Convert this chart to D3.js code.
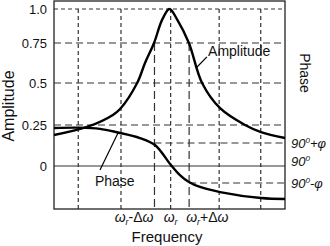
<!DOCTYPE html>
<html>
<head>
<meta charset="utf-8">
<script src="https://cdn.jsdelivr.net/npm/d3@7"></script>
<style>
  body { margin: 0; background: #fff; }
  svg { display: block; }
  text { font-family: "Liberation Sans", Arial, sans-serif; fill: #111; }
</style>
</head>
<body>
<div id="chart"></div>
<script>
// frequency in arbitrary units, resonance (wr) at 50
const ampFreq   = [0, 14.3, 25.5, 28.6, 36, 39.4, 43.3, 46.8, 50, 53.4, 58.4, 64.1, 71.9, 82.7, 89.6, 100];
const amplitude = [0.189, 0.238, 0.31, 0.345, 0.5, 0.625, 0.75, 0.92, 1.0, 0.92, 0.75, 0.5, 0.35, 0.25, 0.207, 0.171];

// phase in degrees (phi = 30 deg)
const phaseFreq = [0, 10.8, 19.9, 27.3, 37.2, 43.7, 50.6, 54.5, 58.4, 63.2, 71.9, 89.6, 100];
const phase     = [139.5, 140, 138.5, 134, 126.5, 117.4, 91.3, 74, 61.8, 53, 44, 33.5, 31.8];

const ampTicks = [0, 0.25, 0.5, 0.75, 1.0];
const ampTickLabels = ["0", "0.25", "0.5", "0.75", "1.0"];
const phaseTicks = [60, 90, 120];
const phaseTickLabels = [["90", "0", "-\u03c6"], ["90", "0", ""], ["90", "0", "+\u03c6"]];

// vertical dashed guides
const gridFreq = [10.5, 29, 43.5, 50.5, 58.5, 71.5, 89.5];
const gridTop  = [1.0, 1.0, 0.75, 1.0, 0.75, 1.0, 1.0];

const W = 330, H = 246;
const margin = {top: 1, right: 45, bottom: 37, left: 54};

const svg = d3.select("#chart").append("svg")
    .attr("width", W)
    .attr("height", H);

const x = d3.scaleLinear().domain([0, 100]).range([margin.left, W - margin.right]);
// schematic axis, not evenly spaced in the original drawing
const yAmp = d3.scaleLinear().domain(ampTicks).range([166, 125, 83, 43, 9]);
const yPhase = d3.scaleLinear().domain(phaseTicks).range([183, 166, 143]);

const bottom = H - margin.bottom;
const grid = svg.append("g").attr("stroke", "#333").attr("fill", "none");

// horizontal guides
ampTicks.forEach(d => {
  let l = grid.append("line")
      .attr("x1", x(0)).attr("x2", x(100))
      .attr("y1", yAmp(d)).attr("y2", yAmp(d))
      .attr("stroke-width", 1.2);
  if (d == 1.0) l.attr("stroke-dasharray", "4,3");
  else if (d > 0) l.attr("stroke-dasharray", "7,4");
});

// 90+phi / 90-phi guides start at the half power frequencies
grid.append("line")
    .attr("x1", x(gridFreq[2])).attr("x2", x(100))
    .attr("y1", yPhase(120)).attr("y2", yPhase(120))
    .attr("stroke-width", 1.2).attr("stroke-dasharray", "7,4");
grid.append("line")
    .attr("x1", x(gridFreq[4])).attr("x2", x(100))
    .attr("y1", yPhase(60)).attr("y2", yPhase(60))
    .attr("stroke-width", 1.2).attr("stroke-dasharray", "7,4");

// vertical guides
grid.selectAll(".vgrid")
    .data(gridFreq)
    .enter().append("line")
    .attr("class", "vgrid")
    .attr("x1", d => x(d)).attr("x2", d => x(d))
    .attr("y1", (d, i) => yAmp(gridTop[i]))
    .attr("y2", bottom)
    .attr("stroke-width", 1.2)
    .attr("stroke-dasharray", (d, i) => gridTop[i] == 0.75 ? "8,4" : "4,3");

// frame
svg.append("rect")
    .attr("x", x(0)).attr("y", margin.top)
    .attr("width", x(100) - x(0))
    .attr("height", bottom - margin.top)
    .attr("fill", "none")
    .attr("stroke", "#222")
    .attr("stroke-width", 1.3);

// curves
const ampLine = d3.line()
    .x(d => x(d[0])).y(d => yAmp(d[1]))
    .curve(d3.curveCatmullRom.alpha(0.5));
const phaseLine = d3.line()
    .x(d => x(d[0])).y(d => yPhase(d[1]))
    .curve(d3.curveCatmullRom.alpha(0.5));

svg.append("path")
    .datum(ampFreq.map((f, i) => [f, amplitude[i]]))
    .attr("d", ampLine)
    .attr("fill", "none").attr("stroke", "#000").attr("stroke-width", 2.4);

svg.append("path")
    .datum(phaseFreq.map((f, i) => [f, phase[i]]))
    .attr("d", phaseLine)
    .attr("fill", "none").attr("stroke", "#000").attr("stroke-width", 2.4);

// left axis labels
const yAxis = d3.axisLeft(yAmp)
    .tickValues(ampTicks)
    .tickSize(0)
    .tickPadding(7)
    .tickFormat((d, i) => ampTickLabels[i]);
const ya = svg.append("g")
    .attr("transform", `translate(${x(0)},0)`)
    .call(yAxis);
ya.select(".domain").remove();
ya.selectAll("text")
    .style("font-family", "'Liberation Sans', Arial, sans-serif")
    .style("font-size", "13px")
    .attr("fill", "#111");

// right phase labels
const rl = svg.append("g");
phaseTicks.forEach((d, i) => {
  let t = rl.append("text")
      .attr("x", x(100) + 6)
      .attr("y", yPhase(d) + (d == 90 ? 0 : 4.5))
      .style("font-size", "13px")
      .style("font-style", "italic");
  t.append("tspan").text(phaseTickLabels[i][0]);
  t.append("tspan").attr("dy", -5).style("font-size", "8px").text(phaseTickLabels[i][1]);
  t.append("tspan").attr("dy", 5).text(phaseTickLabels[i][2]);
});

// x labels
const xl = svg.append("g")
    .style("font-family", "'Liberation Serif', 'Times New Roman', serif")
    .style("font-size", "14px");
function omegaLabel(g, px, anchor, rest) {
  let t = g.append("text")
      .attr("x", px).attr("y", 222)
      .attr("text-anchor", anchor);
  t.append("tspan").style("font-style", "italic").text("\u03c9");
  t.append("tspan").style("font-style", "italic").style("font-size", "9px").attr("dy", 3).text("r");
  if (rest) {
    t.append("tspan").attr("dy", -3).text(rest);
    t.append("tspan").style("font-style", "italic").text("\u03c9");
  }
}
omegaLabel(xl, x(gridFreq[2]) - 1, "end", "-\u0394");
omegaLabel(xl, x(gridFreq[3]), "middle", null);
omegaLabel(xl, x(gridFreq[4]) - 3, "start", "+\u0394");

// titles
svg.append("text")
    .attr("x", 167).attr("y", 242)
    .attr("text-anchor", "middle")
    .style("font-size", "15px")
    .text("Frequency");

svg.append("text")
    .attr("transform", "translate(14,106) rotate(-90)")
    .attr("text-anchor", "middle")
    .style("font-size", "16px")
    .text("Amplitude");

svg.append("text")
    .attr("transform", "translate(300,73) rotate(90)")
    .attr("text-anchor", "middle")
    .style("font-size", "14px")
    .text("Phase");

// curve annotations
svg.append("line")
    .attr("x1", x(61.5)).attr("y1", yAmp(0.594))
    .attr("x2", x(66.2)).attr("y2", yAmp(0.663))
    .attr("stroke", "#000").attr("stroke-width", 1.2);
svg.append("text")
    .attr("x", x(66.7)).attr("y", yAmp(0.669))
    .style("font-size", "14px")
    .text("Amplitude");

svg.append("line")
    .attr("x1", x(27.7)).attr("y1", yPhase(133))
    .attr("x2", x(19.9)).attr("y2", yPhase(83))
    .attr("stroke", "#000").attr("stroke-width", 1.2);
svg.append("text")
    .attr("x", x(17.7)).attr("y", yPhase(54.7))
    .style("font-size", "14px")
    .text("Phase");
</script>
</body>
</html>
